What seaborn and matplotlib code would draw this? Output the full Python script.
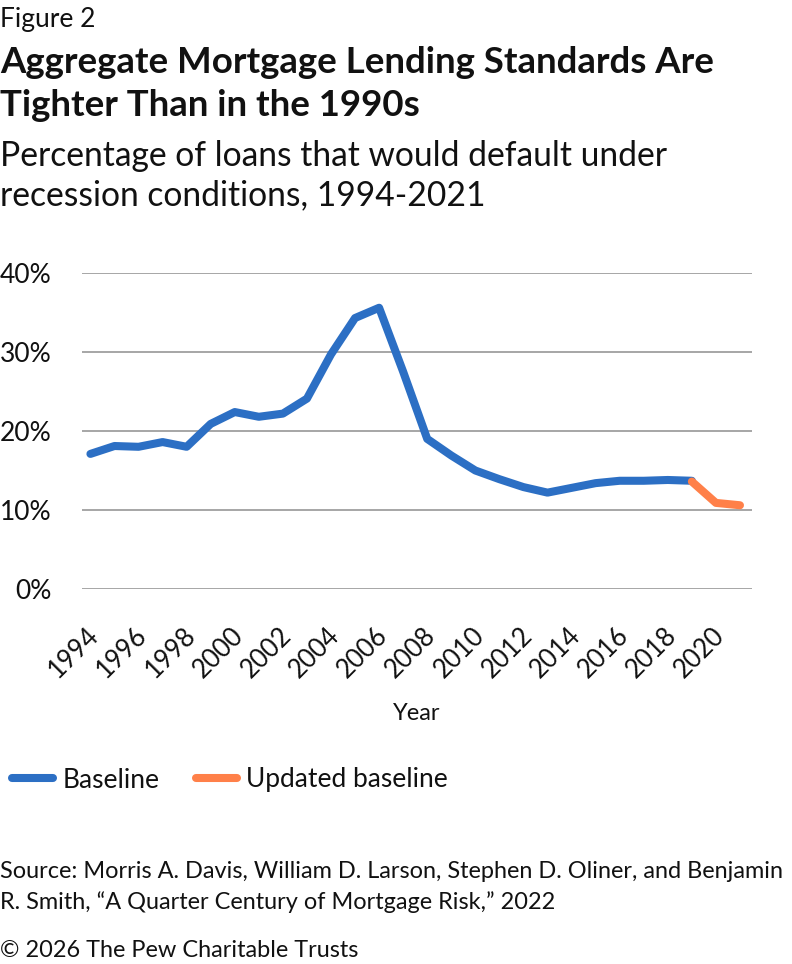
import matplotlib
matplotlib.use("Agg")
import matplotlib.pyplot as plt
from matplotlib.lines import Line2D
import seaborn as sns
import pandas as pd

# ---- data ----
baseline_years = list(range(1994, 2020))
baseline_values = [17.1, 18.1, 18.0, 18.6, 18.0, 20.9, 22.4, 21.8, 22.2, 24.1,
                   29.7, 34.3, 35.6, 27.5, 19.0, 16.9, 15.0, 13.9, 12.9, 12.2,
                   12.8, 13.4, 13.7, 13.7, 13.8, 13.7]
updated_years = [2019, 2020, 2021]
updated_values = [13.6, 10.9, 10.6]
series_names = ["Baseline", "Updated baseline"]
series_colors = ["#2C6FC4", "#FF8049"]
y_ticks = [0, 10, 20, 30, 40]
y_tick_labels = ["0%", "10%", "20%", "30%", "40%"]
x_ticks = list(range(1994, 2021, 2))

df = pd.concat([
    pd.DataFrame({"Year": baseline_years, "Value": baseline_values, "Series": series_names[0]}),
    pd.DataFrame({"Year": updated_years, "Value": updated_values, "Series": series_names[1]}),
], ignore_index=True)

sns.set_theme(style="white")
plt.rcParams["font.family"] = ["Lato", "DejaVu Sans"]

W, H = 792, 964
fig = plt.figure(figsize=(W / 100, H / 100), dpi=100)
ax_left, ax_right, ax_top, ax_bottom = 82, 752, 273, 589
ax = fig.add_axes([ax_left / W, 1 - ax_bottom / H, (ax_right - ax_left) / W, (ax_bottom - ax_top) / H])

palette = dict(zip(series_names, series_colors))
sns.lineplot(data=df, x="Year", y="Value", hue="Series", palette=palette, ax=ax,
             linewidth=5.8, legend=False, sort=True)
for ln in ax.get_lines():
    ln.set_solid_capstyle("round")
    ln.set_solid_joinstyle("round")

ax.set_xlim(1993.65, 2021.5)
ax.set_ylim(0, 40)
ax.set_yticks(y_ticks)
ax.set_yticklabels(y_tick_labels)
ax.set_xticks(x_ticks)
ax.set_xticklabels([str(y) for y in x_ticks], rotation=45, ha="right", rotation_mode="anchor")
ax.tick_params(axis="x", length=0, pad=24, labelsize=18.5, labelcolor="#111111")
ax.tick_params(axis="y", length=0, pad=22, labelsize=19, labelcolor="#111111")
for lbl in ax.get_xticklabels():
    lbl.set_x(lbl.get_position()[0])
ax.yaxis.grid(True, color="#A6A6A6", linewidth=1.4)
ax.xaxis.grid(False)
ax.set_axisbelow(True)
for s in ax.spines.values():
    s.set_visible(False)
ax.set_xlabel("")
ax.set_ylabel("")

# shift x tick labels slightly left
import matplotlib.transforms as mtransforms
offset = mtransforms.ScaledTranslation(-4 / 100, 0, fig.dpi_scale_trans)
for lbl in ax.get_xticklabels():
    lbl.set_transform(lbl.get_transform() + offset)

def t(x, y, s, **kw):
    fig.text(x / W, 1 - y / H, s, va="baseline", ha=kw.pop("ha", "left"), color="#111111", **kw)

t(0, 27, "Figure 2", fontsize=19)
t(0, 73, "Aggregate Mortgage Lending Standards Are", fontsize=26.4, fontweight="bold")
t(0, 116.5, "Tighter Than in the 1990s", fontsize=26.4, fontweight="bold")
t(0, 165.5, "Percentage of loans that would default under", fontsize=24.2)
t(0, 205, "recession conditions, 1994-2021", fontsize=24.2)
t((ax_left + ax_right) / 2, 720, "Year", fontsize=17, ha="center")
t(0, 877.5, "Source: Morris A. Davis, William D. Larson, Stephen D. Oliner, and Benjamin", fontsize=16.9)
t(0, 909, "R. Smith, \u201cA Quarter Century of Mortgage Risk,\u201d 2022", fontsize=16.9)
t(0, 957, "\u00a9 2026 The Pew Charitable Trusts", fontsize=16.9)

handles = [Line2D([0], [0], color=c, linewidth=5.8, solid_capstyle="round") for c in series_colors]
fig.legend(handles, series_names, loc="center left", bbox_to_anchor=(12 / W, 1 - 780 / H),
           ncol=2, frameon=False, fontsize=19, handlelength=1.55, handletextpad=0.35,
           columnspacing=1.4, borderpad=0, borderaxespad=0, labelcolor="#111111")

fig.savefig("out.png", dpi=100)
